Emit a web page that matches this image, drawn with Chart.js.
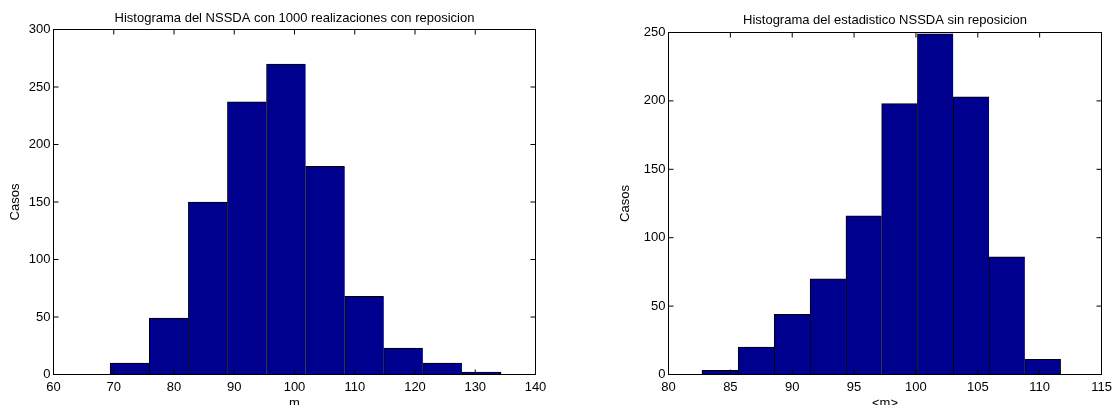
<!DOCTYPE html>
<html>
<head>
<meta charset="utf-8">
<title>Histogramas NSSDA</title>
<script src="https://cdn.jsdelivr.net/npm/chart.js@4.4.1/dist/chart.umd.min.js"></script>
<style>
    html, body { margin: 0; padding: 0; background: #fff; width: 1112px; height: 405px; overflow: hidden; }
    canvas { position: absolute; top: 0; }
    #chart-con { left: 0; }
    #chart-sin { left: 556px; }
</style>
</head>
<body>
<canvas id="chart-con" width="556" height="416"></canvas>
<canvas id="chart-sin" width="580" height="416"></canvas>
<script>
// Histograma con reposicion (centros de clase y casos)
const centrosCon = [72.65, 79.14, 85.63, 92.11, 98.60, 105.09, 111.58, 118.06, 124.55, 131.04];
const casosCon = [10, 49, 150, 237, 270, 181, 68, 23, 10, 2];
const ticksXCon = [60, 70, 80, 90, 100, 110, 120, 130, 140];
const ticksYCon = [0, 50, 100, 150, 200, 250, 300];

// Histograma sin reposicion
const centrosSin = [84.17, 87.10, 89.99, 92.90, 95.79, 98.67, 101.57, 104.46, 107.36, 110.25];
const casosSin = [3, 20, 44, 70, 116, 198, 249, 203, 86, 11];
const ticksXSin = [80, 85, 90, 95, 100, 105, 110, 115];
const ticksYSin = [0, 50, 100, 150, 200, 250];

const FUENTE = { family: "'Liberation Sans', Arial, sans-serif", size: 13, weight: 'normal' };
const AZUL = '#00008f';
const ALTO = 416;

// Caja negra con marcas hacia adentro (estilo MATLAB)
const cajaMatlab = {
    id: 'cajaMatlab',
    afterDatasetsDraw(chart) {
        const { ctx, chartArea: a, scales: { x, y } } = chart;
        const largo = 5;
        ctx.save();
        ctx.strokeStyle = '#000';
        ctx.lineWidth = 1;
        ctx.strokeRect(a.left, a.top, a.right - a.left, a.bottom - a.top);
        ctx.beginPath();
        x.ticks.forEach(t => {
            const px = x.getPixelForValue(t.value);
            ctx.moveTo(px, a.bottom); ctx.lineTo(px, a.bottom - largo);
            ctx.moveTo(px, a.top); ctx.lineTo(px, a.top + largo);
        });
        y.ticks.forEach(t => {
            const py = y.getPixelForValue(t.value);
            ctx.moveTo(a.left, py); ctx.lineTo(a.left + largo, py);
            ctx.moveTo(a.right, py); ctx.lineTo(a.right - largo, py);
        });
        ctx.stroke();
        ctx.restore();
    }
};

function crearHistograma(id, cfg) {
    const n = cfg.centros.length;
    return new Chart(document.getElementById(id), {
        type: 'bar',
        data: {
            datasets: [{
                data: cfg.centros.map((c, i) => ({ x: c, y: cfg.casos[i] })),
                backgroundColor: AZUL,
                borderColor: '#000',
                borderWidth: ctx => ({ top: 1, left: 1, right: ctx.dataIndex === n - 1 ? 1 : 0, bottom: 0 }),
                barThickness: 'flex',
                categoryPercentage: 1,
                barPercentage: 1
            }]
        },
        options: {
            responsive: false,
            animation: false,
            layout: { padding: { left: 0, right: cfg.padDer, top: 0, bottom: 0 } },
            plugins: {
                legend: { display: false },
                tooltip: { enabled: false },
                title: {
                    display: true,
                    fullSize: false,
                    text: cfg.titulo,
                    color: '#000',
                    font: FUENTE,
                    padding: cfg.padTitulo
                }
            },
            scales: {
                x: {
                    type: 'linear',
                    offset: false,
                    min: cfg.ticksX[0],
                    max: cfg.ticksX[cfg.ticksX.length - 1],
                    grid: { display: false, drawTicks: false, offset: false },
                    border: { display: false },
                    afterBuildTicks: s => { s.ticks = cfg.ticksX.map(v => ({ value: v })); },
                    afterFit: s => { s.height = ALTO - 374.5; },
                    ticks: { color: '#000', font: FUENTE, padding: 5, maxRotation: 0, autoSkip: false },
                    title: { display: true, text: cfg.tituloX, color: '#000', font: FUENTE, padding: { top: 0, bottom: 5 } }
                },
                y: {
                    min: 0,
                    max: cfg.ticksY[cfg.ticksY.length - 1],
                    grid: { display: false, drawTicks: false },
                    border: { display: false },
                    afterBuildTicks: s => { s.ticks = cfg.ticksY.map(v => ({ value: v })); },
                    afterFit: s => { s.width = cfg.anchoY; },
                    ticks: { color: '#000', font: FUENTE, padding: 3 },
                    title: { display: true, text: 'Casos', color: '#000', font: FUENTE, padding: { top: cfg.padCasos, bottom: 0 } }
                }
            }
        },
        plugins: [cajaMatlab]
    });
}

crearHistograma('chart-con', {
    centros: centrosCon,
    casos: casosCon,
    ticksX: ticksXCon,
    ticksY: ticksYCon,
    titulo: 'Histograma del NSSDA con 1000 realizaciones con reposicion',
    tituloX: 'm',
    padTitulo: { top: 10.2, bottom: 3.7 },
    anchoY: 53.5,
    padCasos: 7.2,
    padDer: 20.5
});

crearHistograma('chart-sin', {
    centros: centrosSin,
    casos: casosSin,
    ticksX: ticksXSin,
    ticksY: ticksYSin,
    titulo: 'Histograma del estadistico NSSDA sin reposicion',
    tituloX: '<m>',
    padTitulo: { top: 12.7, bottom: 4.2 },
    anchoY: 112.5,
    padCasos: 61.2,
    padDer: 34.5
});
</script>
</body>
</html>
